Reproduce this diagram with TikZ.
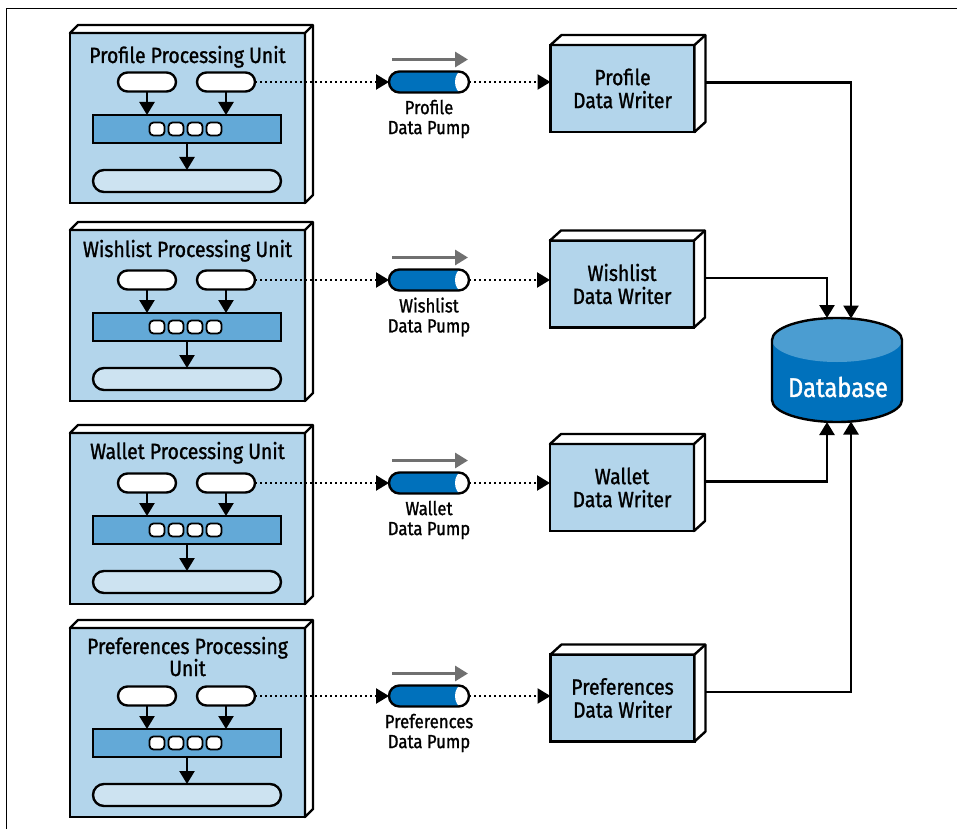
\documentclass[tikz,border=0pt]{standalone}
\usepackage{fontspec}
\setmainfont{Fira Sans}[FakeStretch=0.88,FakeBold=1.2]
\usetikzlibrary{arrows.meta,calc}
\definecolor{lblue}{HTML}{B3D5EB}
\definecolor{mblue}{HTML}{63A9D7}
\definecolor{pblue}{HTML}{CDE3F1}
\definecolor{dblue}{HTML}{0071BC}
\definecolor{tblue}{HTML}{4B9DD1}
\definecolor{garrow}{HTML}{707070}
\tikzset{
 boxline/.style={draw=black, line width=2.4pt},
 unitbox/.style={boxline, fill=lblue, minimum width=235pt, inner sep=0pt, outer sep=0pt},
 face/.style={draw=black, fill=white, line width=2.4pt, line join=round},
 titletext/.style={font=\fontsize{22}{24}\selectfont, inner sep=0pt, anchor=base},
 pill/.style={boxline, fill=white, minimum width=58pt, minimum height=19pt, rounded corners=9.5pt, inner sep=0pt, outer sep=0pt},
 barbox/.style={boxline, fill=mblue, minimum width=188pt, minimum height=28pt, inner sep=0pt, outer sep=0pt},
 sq/.style={draw=black, line width=1.8pt, fill=white, minimum width=15pt, minimum height=13pt, rounded corners=4pt, inner sep=0pt},
 lowpill/.style={boxline, fill=pblue, minimum width=188pt, minimum height=22pt, rounded corners=11pt, inner sep=0pt, outer sep=0pt},
 arr/.style={line width=2.4pt, -{Triangle[length=13pt,width=15pt]}},
 dotarr/.style={line width=2.4pt, dash pattern=on 2.4pt off 2.6pt, -{Triangle[length=13pt,width=15pt]}},
 conn/.style={line width=2.5pt, -{Triangle[length=13pt,width=15pt]}},
 grayarr/.style={draw=garrow, line width=3pt, -{Triangle[length=13pt,width=15pt]}},
 writer/.style={boxline, fill=lblue, minimum width=144pt, minimum height=87pt, align=center, inner sep=0pt, outer sep=0pt, font=\fontsize{22}{23}\selectfont},
 pump/.style={draw=black, fill=dblue, line width=2.4pt, minimum width=80pt, minimum height=21pt, rounded corners=10.5pt, inner sep=0pt, outer sep=0pt,
   path picture={\fill[white] ($(path picture bounding box.east)+(-7pt,0pt)$) ellipse[x radius=7pt, y radius=11pt];}},
 pumplabel/.style={font=\fontsize{19}{20}\selectfont, align=center, inner sep=0pt},
 dbtext/.style={font=\fontsize{27}{30}\selectfont, text=white, inner sep=0pt},
 frameline/.style={line width=1pt, draw=black}
}
\newcommand\sidefaces[3]{%
 \filldraw[face] (#1.north west) -- ++(#2,-#3) -- ($(#1.north east)+(#2,-#3)$) -- ($(#1.south east)+(#2,-#3)$) -- (#1.south east) -- (#1.north east) -- cycle;
 \draw[face] (#1.north east) -- ++(#2,-#3);
}
\newcommand\produnit[3]{% name, top, bottom
 \node[unitbox, minimum height={#3-#2}] (#1) at (187.5,{(#2+#3)/2}) {};
 \sidefaces{#1}{8}{8}
 \node[pill] (#1a) at (147,#3-121) {};
 \node[pill] (#1b) at (226,#3-121) {};
 \node[barbox] (#1bar) at (187,#3-74) {};
 \foreach \i in {0,1,2,3} {\node[sq] (#1s\i) at (157+19*\i,#3-74) {};}
 \node[lowpill] (#1c) at (187,#3-22) {};
 \draw[arr] (#1a.south) -- (#1a.south |- #1bar.north);
 \draw[arr] (#1b.south) -- (#1b.south |- #1bar.north);
 \draw[arr] (#1bar.south) -- (#1c.north);
}
\begin{document}
\begin{tikzpicture}[x=1pt,y=-1pt]
\useasboundingbox (0,0) rectangle (957,829);
\draw[frameline] (6,829) -- (6,9) -- (957,9);

% processing units
\produnit{u1}{33}{203}
\node[titletext] (u1t) at (187.5,63) {Profile Processing Unit};
\produnit{u2}{230}{401}
\node[titletext] (u2t) at (187.5,257) {Wishlist Processing Unit};
\produnit{u3}{433}{604}
\node[titletext] (u3t) at (187.5,459) {Wallet Processing Unit};
\produnit{u4}{628}{817}
\node[titletext] (u4t) at (187.5,654) {Preferences Processing};
\node[titletext] (u4t2) at (187.5,676) {Unit};

% pumps
\node[pump] (p1) at (429,82) {};
\node[pump] (p2) at (429,280) {};
\node[pump] (p3) at (429,483) {};
\node[pump] (p4) at (429,696) {};
\foreach \p/\t in {p1/Profile,p2/Wishlist,p3/Wallet,p4/Preferences}{
  \node[pumplabel] (\p l) at ($(\p)+(0,37)$) {\t\\Data Pump};
  \draw[grayarr] ($(\p.north west)+(3,-12)$) -- ($(\p.north east)+(-1,-12)$);
}

% writers
\node[writer] (w1) at (622.5,88.5) {Profile\\Data Writer};
\node[writer] (w2) at (622,284) {Wishlist\\Data Writer};
\node[writer] (w3) at (622,487.5) {Wallet\\Data Writer};
\node[writer] (w4) at (622.5,698) {Preferences\\Data Writer};
\foreach \w in {w1,w2,w3,w4}{\sidefaces{\w}{11}{10}}

% dotted flows
\foreach \n in {1,2,3,4}{
  \draw[dotarr] (u\n b.east) -- (p\n.west);
  \draw[dotarr] (p\n.east) -- (p\n.east -| w\n.west);
}

% database
\fill[dblue] (772,340) -- (772,400) arc[start angle=180,end angle=360,x radius=65pt,y radius=22pt] -- (902,340) arc[start angle=0,end angle=180,x radius=65pt,y radius=22pt] -- cycle;
\fill[tblue] (837,340) ellipse[x radius=65pt,y radius=22pt];
\draw[line width=2.4pt] (772,340) -- (772,400) arc[start angle=180,end angle=360,x radius=65pt,y radius=22pt] -- (902,340) arc[start angle=0,end angle=180,x radius=65pt,y radius=22pt] -- cycle;
\node[dbtext] (db) at (838,387) {Database};
\coordinate (dbt1) at (827,318);
\coordinate (dbt2) at (851,318.5);
\coordinate (dbb1) at (827,422);
\coordinate (dbb2) at (851,421.5);

% writer connectors
\foreach \w in {w1,w2,w3,w4}{\coordinate (\w o) at ($(\w.east)+(11,-6)$);}
\draw[conn] (w1o) -| (dbt2);
\draw[conn] (w2o) -| (dbt1);
\draw[conn] (w3o) -| (dbb1);
\draw[conn] (w4o) -| (dbb2);
\end{tikzpicture}
\end{document}
